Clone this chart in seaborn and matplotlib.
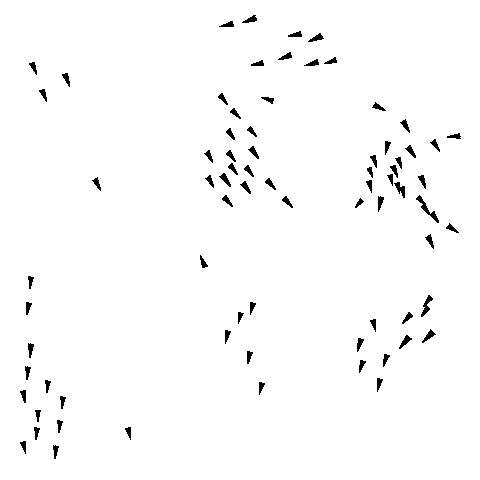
import matplotlib
matplotlib.use("Agg")
import matplotlib.pyplot as plt
import numpy as np
import seaborn as sns

sns.set_theme(style="white")

# arrow tails (wide end) in picture coordinates, y going down
x = [32, 65, 42, 95,
     233, 256, 301, 322, 291, 263, 318, 336, 220, 273, 232, 228, 249,
     207, 228, 251, 230, 246, 208, 222, 243, 267, 224, 284,
     374, 403, 460, 388, 408, 433, 373, 398, 393, 369, 390, 421, 369,
     397, 402, 362, 381, 418, 423, 432, 448, 428,
     31, 29, 31, 28, 48, 23, 63, 38, 60, 37, 128, 23, 56,
     205, 253, 241, 228, 250, 262,
     431, 428, 411, 373, 433, 409, 361, 387, 363, 380]
y = [63, 74, 90, 179,
     24, 18, 34, 36, 55, 63, 62, 60, 95, 101, 110, 130, 128,
     152, 152, 148, 165, 167, 177, 175, 183, 180, 197, 198,
     105, 121, 136, 142, 147, 141, 156, 158, 166, 168, 175, 176, 181,
     183, 187, 200, 197, 197, 205, 213, 226, 236,
     277, 303, 344, 367, 381, 391, 397, 410, 421, 428, 428, 442, 446,
     267, 303, 313, 331, 352, 383,
     297, 307, 314, 320, 332, 337, 339, 355, 361, 379]
# arrow tips (narrow end)
tip_x = [37, 70, 47, 101,
         219, 242, 288, 308, 278, 251, 304, 324, 228, 261, 241, 235, 257,
         213, 236, 259, 238, 254, 214, 231, 251, 276, 233, 293,
         386, 410, 447, 385, 416, 440, 377, 402, 398, 373, 393, 426, 372,
         400, 404, 355, 378, 426, 430, 439, 459, 434,
         30, 27, 30, 27, 47, 25, 62, 38, 59, 36, 131, 26, 55,
         200, 250, 238, 225, 248, 259,
         423, 421, 402, 376, 422, 399, 357, 383, 359, 377]
tip_y = [75, 87, 102, 191,
         27, 23, 36, 42, 60, 65, 66, 64, 105, 97, 119, 140, 137,
         163, 162, 159, 175, 177, 188, 187, 194, 190, 207, 208,
         111, 133, 137, 155, 158, 152, 168, 169, 178, 178, 186, 189, 193,
         194, 198, 208, 212, 206, 215, 223, 233, 249,
         289, 315, 358, 380, 393, 403, 409, 422, 433, 440, 440, 454, 459,
         255, 315, 324, 344, 364, 395,
         307, 317, 324, 332, 343, 349, 352, 367, 373, 392]

u = np.array(tip_x) - np.array(x)
v = np.array(tip_y) - np.array(y)

fig = plt.figure(figsize=(4.8, 4.8), dpi=100)
ax = fig.add_axes([0, 0, 1, 1])
ax.quiver(x, y, u, v, angles="xy", scale_units="xy", scale=1,
          units="dots", width=2.6, headwidth=3, headlength=8,
          headaxislength=7.5, minlength=0, color="black",
          antialiased=False)
ax.set_xlim(0, 480)
ax.set_ylim(480, 0)
ax.axis("off")

fig.savefig("out.png", dpi=100)
